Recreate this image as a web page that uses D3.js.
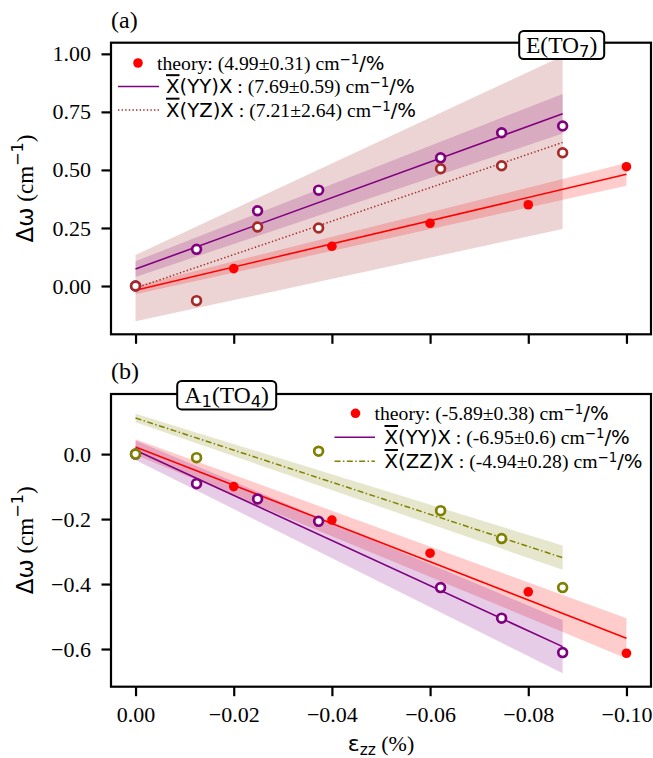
<!DOCTYPE html>
<html>
<head>
<meta charset="utf-8">
<script src="https://cdn.jsdelivr.net/npm/d3@7"></script>
<style>
  body { margin: 0; background: #fff; }
</style>
</head>
<body>
<script>
// strain values (%)
const strainExp = [0, -0.01243, -0.02486, -0.03729, -0.06214, -0.07457, -0.087];
const strainZZ = [0, -0.01243, -0.03729, -0.06214, -0.07457, -0.087];
const strainTheory = [0, -0.02, -0.04, -0.06, -0.08, -0.10];

// panel (a) E(TO7), delta omega (cm-1)
const aTheory = [0, 0.075, 0.171, 0.270, 0.350, 0.514];
const aYY = [0, 0.158, 0.324, 0.413, 0.552, 0.660, 0.689];
const aYZ = [0, -0.063, 0.254, 0.250, 0.505, 0.518, 0.574];

// panel (b) A1(TO4)
const bTheory = [0, -0.100, -0.203, -0.305, -0.424, -0.613];
const bYY = [0, -0.091, -0.138, -0.207, -0.411, -0.505, -0.611];
const bZZ = [0, -0.011, 0.009, -0.174, -0.260, -0.411];

// linear fits: slope, slope error, intercept, intercept error  (theory, YY, YZ / ZZ)
const aSlope = [4.99, 7.69, 7.21];
const aSlopeErr = [0.31, 0.59, 2.64];
const aIntercept = [-0.018, 0.073, -0.009];
const aInterceptErr = [0.018, 0.034, 0.143];

const bSlope = [-5.89, -6.95, -4.94];
const bSlopeErr = [0.38, 0.6, 0.28];
const bIntercept = [0.022, 0.012, 0.111];
const bInterceptErr = [0.024, 0.03, 0.013];

// ticks
const xTicks = [0, -0.02, -0.04, -0.06, -0.08, -0.10];
const aYTicks = [0, 0.25, 0.5, 0.75, 1.0];
const bYTicks = [0, -0.2, -0.4, -0.6];

const W = 653, H = 758;
const serif = "'Liberation Serif', 'Times New Roman', serif";
const sans = "'DejaVu Sans', sans-serif";
const left = 111, right = 651;

const svg = d3.select("body").append("svg")
    .attr("width", W)
    .attr("height", H);

const x = d3.scaleLinear().domain([0.005, -0.105]).range([left, right]);

// writes text made of several font runs (mathtext look)
function rich(sel, parts, size) {
    let off = 0;
    parts.forEach(p => {
        const s = p.s || 1;
        const target = (p.up || 0) * size;   // positive = raised
        const t = sel.append("tspan")
            .attr("font-family", p.f)
            .attr("font-size", size * s)
            .attr("dy", -(target - off))
            .text(p.t);
        if (p.over) t.style("text-decoration", "overline");
        off = target;
    });
    return sel;
}

function fitParts(name, k, e) {
    const sup = { t: "−1", f: sans, s: 0.68, up: 0.3 };
    if (name === "theory") {
        return [{ t: "theory: (" + k + "±" + e + ") cm", f: serif }, sup, { t: "/%", f: sans }];
    }
    return [{ t: "X", f: sans, over: true },
            { t: "(" + name + ")X", f: sans },
            { t: " : (" + k + "±" + e + ") cm", f: serif },
            sup,
            { t: "/%", f: sans }];
}

const panels = [
    {
        top: 42.7, bottom: 334.3, yDomain: [-0.208, 1.048], yTicks: aYTicks, fmt: ".2f",
        letter: "(a)", letterY: 27.5, showX: false,
        series: [
            { name: "theory", xs: strainTheory, ys: aTheory, color: "#ff0000", dash: null, open: false },
            { name: "YY", xs: strainExp, ys: aYY, color: "#800080", dash: null, open: true },
            { name: "YZ", xs: strainExp, ys: aYZ, color: "#a52a2a", dash: "1.4,2.2", open: true }
        ],
        k: aSlope, ek: aSlopeErr, b: aIntercept, eb: aInterceptErr,
        legend: { dotX: 138, lineX: [118, 159], textX: [157, 166], rows: [63, 86.5, 110] },
        tag: { cx: 561.7, cy: 45, w: 85, h: 28, parts: [{ t: "E(TO", f: serif }, { t: "7", f: sans, s: 0.7, up: -0.15 }, { t: ")", f: serif }] }
    },
    {
        top: 394, bottom: 686.7, yDomain: [-0.716, 0.185], yTicks: bYTicks, fmt: ".1f",
        letter: "(b)", letterY: 378.5, showX: true,
        series: [
            { name: "theory", xs: strainTheory, ys: bTheory, color: "#ff0000", dash: null, open: false },
            { name: "YY", xs: strainExp, ys: bYY, color: "#800080", dash: null, open: true },
            { name: "ZZ", xs: strainZZ, ys: bZZ, color: "#808000", dash: "6,2.4,1.5,2.4", open: true }
        ],
        k: bSlope, ek: bSlopeErr, b: bIntercept, eb: bInterceptErr,
        legend: { dotX: 355.5, lineX: [334.5, 375], textX: [374.5, 384.5], rows: [413.3, 437.3, 461.3] },
        tag: { cx: 226.7, cy: 395.2, w: 99, h: 28.5, parts: [{ t: "A", f: serif }, { t: "1", f: sans, s: 0.7, up: -0.15 }, { t: "(TO", f: serif }, { t: "4", f: sans, s: 0.7, up: -0.15 }, { t: ")", f: serif }] }
    }
];

panels.forEach(p => {
    const g = svg.append("g");
    const y = d3.scaleLinear().domain(p.yDomain).range([p.bottom, p.top]);

    const fits = p.series.map((s, i) => {
        const xEnd = s.xs[s.xs.length - 1];
        return { s: s, xEnd: xEnd, k: p.k[i], ek: p.ek[i], b: p.b[i], eb: p.eb[i] };
    });

    // confidence bands
    fits.forEach(f => {
        const ends = [0, f.xEnd];
        const up = ends.map(v => [v, f.b + f.eb + (f.k + f.ek) * -v]);
        const lo = ends.map(v => [v, f.b - f.eb + (f.k - f.ek) * -v]).reverse();
        g.append("path")
            .attr("d", d3.line().x(d => x(d[0])).y(d => y(d[1]))(up.concat(lo)) + "Z")
            .attr("fill", f.s.color)
            .attr("fill-opacity", 0.2)
            .attr("stroke", "none");
    });

    // fit lines
    fits.forEach(f => {
        const pts = [[0, f.b], [f.xEnd, f.b + f.k * -f.xEnd]];
        g.append("path")
            .attr("d", d3.line().x(d => x(d[0])).y(d => y(d[1]))(pts))
            .attr("fill", "none")
            .attr("stroke", f.s.color)
            .attr("stroke-width", f.s.dash ? 1.5 : 1.6)
            .attr("stroke-dasharray", f.s.dash);
    });

    // points
    p.series.forEach(s => {
        g.append("g").selectAll("circle")
            .data(s.xs.map((v, i) => [v, s.ys[i]]))
            .enter()
            .append("circle")
            .attr("cx", d => x(d[0]))
            .attr("cy", d => y(d[1]))
            .attr("r", s.open ? 4.4 : 4.8)
            .attr("fill", s.open ? "#fff" : s.color)
            .attr("stroke", s.open ? s.color : "none")
            .attr("stroke-width", 2.7);
    });

    // axes
    const ya = g.append("g")
        .attr("transform", "translate(" + left + ",0)")
        .call(d3.axisLeft(y).tickValues(p.yTicks).tickSize(9.5).tickPadding(10.5)
            .tickFormat(d3.format(p.fmt)));
    const xa = g.append("g")
        .attr("transform", "translate(0," + p.bottom + ")")
        .call(d3.axisBottom(x).tickValues(xTicks).tickSize(9.5).tickPadding(10)
            .tickFormat(p.showX ? d3.format(".2f") : ""));
    [ya, xa].forEach(a => {
        a.select(".domain").remove();
        a.selectAll("line").attr("stroke", "#000").attr("stroke-width", 2.2);
        a.selectAll("text").attr("font-family", serif).attr("font-size", 22).attr("fill", "#000");
    });

    g.append("rect")
        .attr("x", left).attr("y", p.top)
        .attr("width", right - left).attr("height", p.bottom - p.top)
        .attr("fill", "none").attr("stroke", "#000").attr("stroke-width", 2.2);

    // y label
    rich(g.append("text")
        .attr("transform", "translate(33," + (p.top + p.bottom) / 2 + ") rotate(-90)")
        .attr("text-anchor", "middle"),
        [{ t: "Δω", f: sans }, { t: " (cm", f: serif }, { t: "−1", f: sans, s: 0.7, up: 0.42 }, { t: ")", f: serif }], 23);

    // panel letter
    g.append("text").attr("x", left).attr("y", p.letterY)
        .attr("font-family", serif).attr("font-size", 24).text(p.letter);

    // legend
    const L = p.legend;
    p.series.forEach((s, i) => {
        const ry = L.rows[i];
        if (!s.open) {
            g.append("circle").attr("cx", L.dotX).attr("cy", ry).attr("r", 4.8).attr("fill", s.color);
        } else {
            g.append("line").attr("x1", L.lineX[0]).attr("x2", L.lineX[1])
                .attr("y1", ry).attr("y2", ry)
                .attr("stroke", s.color).attr("stroke-width", 1.6)
                .attr("stroke-dasharray", s.dash);
        }
        rich(g.append("text")
            .attr("x", L.textX[s.open ? 1 : 0])
            .attr("y", ry + 6.7),
            fitParts(s.name, p.k[i], p.ek[i]), 19.7);
    });

    // mode tag
    const T = p.tag;
    g.append("rect")
        .attr("x", T.cx - T.w / 2).attr("y", T.cy - T.h / 2)
        .attr("width", T.w).attr("height", T.h)
        .attr("rx", 4.5).attr("ry", 4.5)
        .attr("fill", "#fff").attr("stroke", "#000").attr("stroke-width", 2);
    rich(g.append("text")
        .attr("x", T.cx).attr("y", T.cy + 8)
        .attr("text-anchor", "middle"), T.parts, 23.5);
});

// x label
rich(svg.append("text")
    .attr("x", (left + right) / 2).attr("y", 751)
    .attr("text-anchor", "middle"),
    [{ t: "ε", f: sans }, { t: "zz", f: sans, s: 0.7, up: -0.2 }, { t: " (%)", f: serif }], 22);
</script>
</body>
</html>
